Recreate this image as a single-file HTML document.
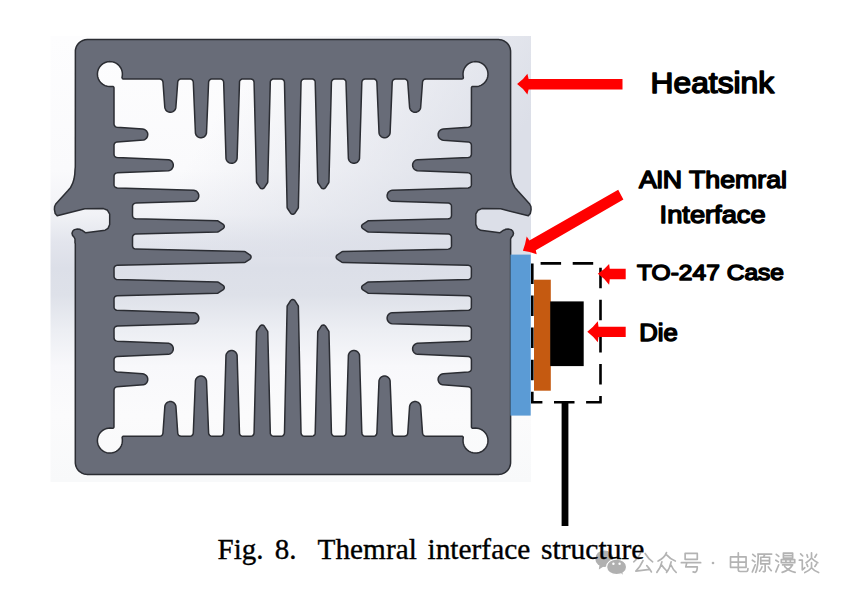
<!DOCTYPE html>
<html><head><meta charset="utf-8"><style>
html,body{margin:0;padding:0;background:#fff;width:848px;height:597px;overflow:hidden}
svg{display:block;position:absolute;left:0;top:0}
</style></head><body>
<svg width="848" height="597" viewBox="0 0 848 597">
<defs>
<linearGradient id="bgV" gradientUnits="userSpaceOnUse" x1="0" y1="36" x2="0" y2="482">
<stop offset="0" stop-color="#fdfdfe"/>
<stop offset="0.30" stop-color="#fafafc"/>
<stop offset="0.40" stop-color="#f1f2f6"/>
<stop offset="0.46" stop-color="#e3e5ed"/>
<stop offset="0.52" stop-color="#dcdfe8"/>
<stop offset="0.58" stop-color="#dee1e9"/>
<stop offset="0.66" stop-color="#eceef3"/>
<stop offset="0.74" stop-color="#f8f8fb"/>
<stop offset="0.85" stop-color="#fbfbfc"/>
<stop offset="1" stop-color="#f8f9fa"/>
</linearGradient>
<linearGradient id="bgH" gradientUnits="userSpaceOnUse" x1="250" y1="60" x2="480" y2="200">
<stop offset="0" stop-color="#dcdfe8" stop-opacity="0"/>
<stop offset="1" stop-color="#dcdfe8" stop-opacity="1"/>
</linearGradient>
</defs>
<rect x="50.5" y="36" width="480.5" height="446" fill="url(#bgV)"/>
<rect x="50.5" y="36" width="480.5" height="221" fill="url(#bgH)"/>
<path d="M55.20 213.50 L57.20 215.80 L84.81 208.82 L103.53 208.60 L107.53 210.29 L109.69 214.08 L109.68 224.50 L108.02 228.41 L105.14 230.21 L85.76 232.77 L85.35 232.62 L81.90 230.20 L80.43 229.83 L80.00 229.30 L77.26 229.11 L74.47 229.62 L72.80 231.00 L72.00 233.20 L72.60 235.50 L74.12 237.21 L74.98 239.00 L75.00 242.96 L75.30 243.62 L75.30 462.41 L75.36 463.60 L75.81 465.86 L76.73 468.07 L78.01 470.00 L78.83 470.90 L79.70 471.69 L81.63 472.97 L83.84 473.89 L86.10 474.34 L87.31 474.40 L498.59 474.40 L499.80 474.34 L502.06 473.89 L504.27 472.97 L505.28 472.37 L507.07 470.90 L507.89 470.00 L509.17 468.07 L510.09 465.86 L510.54 463.60 L510.60 462.39 L510.60 238.97 L511.38 237.21 L512.90 235.50 L513.50 233.20 L512.70 231.00 L511.03 229.62 L508.24 229.11 L505.50 229.30 L505.07 229.83 L503.60 230.20 L500.15 232.62 L499.74 232.77 L480.67 230.32 L477.48 228.41 L475.80 224.34 L475.85 213.94 L477.97 210.29 L481.80 208.62 L500.69 208.82 L528.30 215.80 L530.30 213.50 L531.09 209.55 L530.90 206.50 L529.66 203.96 L517.71 190.81 L514.86 187.41 L512.88 183.44 L511.52 179.05 L510.71 174.04 L510.60 171.98 L510.60 51.59 L510.54 50.40 L510.09 48.14 L509.17 45.93 L507.89 44.00 L507.10 43.13 L506.20 42.31 L504.27 41.03 L502.06 40.11 L499.80 39.66 L498.59 39.60 L87.31 39.60 L84.98 39.83 L82.73 40.51 L80.62 41.63 L78.83 43.10 L78.01 44.00 L76.73 45.93 L76.21 47.03 L75.54 49.24 L75.36 50.44 L75.30 166.96 L75.00 170.01 L74.79 174.04 L73.98 179.05 L72.62 183.44 L70.64 187.41 L67.79 190.81 L55.77 204.05 L54.60 206.50 L54.40 209.45ZM112.85 86.40 L109.80 86.60 L107.36 86.34 L105.02 85.61 L102.87 84.43 L100.99 82.86 L99.45 80.96 L98.32 78.79 L97.62 76.44 L97.40 74.00 L97.66 71.56 L98.39 69.22 L99.57 67.07 L101.14 65.19 L103.04 63.65 L105.21 62.52 L107.56 61.82 L109.17 61.62 L110.81 61.64 L112.43 61.86 L114.00 62.30 L115.51 62.93 L116.77 63.66 L118.07 64.65 L119.23 65.78 L120.78 67.95 L121.48 69.40 L121.94 70.77 L122.28 72.38 L122.40 74.01 L122.30 75.62 L121.99 77.72 L122.38 78.51 L122.93 78.89 L123.50 79.00 L159.62 79.00 L160.91 79.25 L161.84 79.82 L162.35 80.38 L162.83 81.35 L162.97 82.05 L164.77 107.15 L164.98 108.29 L165.77 109.91 L166.42 110.68 L167.21 111.33 L168.84 112.09 L169.84 112.27 L170.86 112.27 L172.53 111.86 L173.99 110.95 L174.65 110.28 L175.23 109.45 L175.81 107.90 L177.73 82.12 L177.87 81.35 L178.31 80.44 L178.80 79.87 L179.36 79.46 L180.30 79.09 L180.97 79.01 L189.98 79.00 L190.73 79.09 L191.69 79.48 L192.30 79.95 L192.75 80.49 L193.17 81.44 L193.29 82.18 L195.44 133.18 L196.07 134.95 L196.66 135.79 L197.49 136.60 L198.35 137.15 L199.29 137.54 L200.35 137.76 L201.39 137.78 L203.20 137.33 L204.09 136.83 L204.87 136.19 L205.94 134.74 L206.32 133.79 L206.51 132.86 L208.61 82.22 L208.86 81.05 L209.28 80.31 L210.03 79.60 L210.71 79.23 L211.39 79.05 L220.36 79.00 L221.11 79.09 L222.14 79.52 L222.74 80.02 L223.34 80.87 L223.67 82.26 L225.99 158.30 L226.21 159.36 L226.60 160.30 L227.19 161.21 L227.91 161.95 L228.87 162.61 L229.81 163.02 L231.67 163.29 L232.69 163.18 L233.73 162.86 L234.63 162.37 L235.43 161.74 L236.54 160.23 L236.92 159.28 L237.12 158.21 L239.52 81.54 L239.96 80.51 L240.46 79.91 L241.39 79.29 L242.13 79.06 L250.75 79.00 L251.91 79.21 L252.60 79.56 L253.14 80.02 L253.74 80.88 L254.07 82.27 L256.54 181.95 L256.79 182.73 L260.19 187.90 L261.11 188.58 L262.30 188.79 L263.31 188.52 L264.17 187.83 L267.51 182.73 L267.76 181.95 L270.31 81.62 L270.56 80.88 L271.21 79.97 L272.19 79.30 L272.93 79.06 L281.19 79.00 L282.31 79.21 L283.01 79.57 L283.55 80.03 L284.14 80.89 L284.47 82.29 L287.14 207.45 L287.39 208.23 L290.79 213.40 L291.71 214.08 L292.91 214.29 L293.91 214.02 L294.77 213.33 L298.11 208.23 L298.36 207.45 L301.03 82.29 L301.36 80.89 L301.95 80.03 L302.43 79.61 L303.19 79.21 L304.31 79.00 L312.57 79.06 L313.31 79.30 L314.29 79.97 L314.94 80.88 L315.19 81.62 L317.74 181.95 L317.99 182.73 L321.39 187.90 L322.31 188.58 L323.53 188.79 L324.51 188.52 L325.37 187.83 L328.71 182.73 L328.96 181.95 L331.43 82.27 L331.76 80.88 L332.09 80.34 L332.84 79.61 L333.59 79.21 L334.71 79.00 L343.37 79.06 L344.11 79.29 L345.04 79.91 L345.54 80.51 L345.98 81.54 L348.38 158.29 L348.61 159.36 L349.03 160.37 L349.65 161.28 L350.43 162.05 L351.35 162.65 L352.36 163.07 L353.44 163.27 L354.46 163.27 L356.20 162.82 L357.09 162.33 L357.88 161.68 L358.94 160.23 L359.32 159.29 L359.52 158.29 L361.83 82.26 L362.16 80.87 L362.76 80.02 L363.24 79.60 L363.99 79.21 L365.11 79.00 L374.11 79.05 L374.86 79.26 L375.47 79.60 L376.22 80.31 L376.64 81.05 L376.89 82.22 L379.04 133.17 L379.36 134.30 L379.83 135.21 L381.10 136.60 L381.96 137.16 L382.97 137.57 L384.04 137.77 L385.15 137.76 L386.14 137.57 L387.08 137.19 L388.48 136.18 L389.54 134.74 L389.89 133.86 L390.11 132.87 L392.21 82.18 L392.55 80.85 L392.88 80.31 L393.63 79.60 L394.38 79.21 L395.49 79.00 L404.49 79.00 L405.20 79.09 L406.14 79.46 L407.15 80.38 L407.63 81.35 L407.77 82.12 L409.57 107.15 L409.78 108.28 L410.19 109.29 L410.75 110.15 L412.14 111.41 L413.04 111.89 L414.02 112.18 L415.10 112.30 L416.12 112.21 L417.74 111.66 L419.07 110.69 L420.06 109.38 L420.61 107.91 L422.53 82.05 L422.90 80.78 L423.50 79.97 L424.04 79.53 L424.72 79.20 L425.88 79.00 L462.26 78.96 L462.97 78.57 L463.39 77.79 L463.04 75.02 L463.04 73.19 L463.40 70.99 L463.99 69.24 L464.74 67.74 L466.03 65.95 L467.33 64.65 L468.66 63.64 L470.64 62.59 L472.94 61.87 L474.80 61.62 L477.01 61.69 L478.84 62.06 L480.94 62.85 L482.54 63.77 L484.26 65.19 L485.49 66.59 L486.67 68.49 L487.37 70.20 L487.88 72.38 L488.00 74.23 L487.77 76.45 L487.29 78.24 L486.37 80.27 L485.34 81.80 L483.83 83.41 L482.52 84.44 L480.95 85.35 L478.86 86.14 L477.04 86.50 L475.39 86.60 L472.55 86.40 L471.86 86.78 L471.44 87.53 L471.40 123.87 L471.20 125.03 L470.87 125.71 L470.43 126.25 L469.62 126.85 L468.35 127.22 L443.25 129.02 L442.19 129.21 L440.63 129.92 L439.41 131.01 L438.55 132.41 L438.14 133.93 L438.24 135.80 L438.54 136.78 L439.03 137.68 L439.71 138.52 L440.49 139.18 L442.18 139.99 L443.25 140.18 L468.28 141.98 L469.05 142.12 L470.02 142.60 L470.94 143.61 L471.31 144.55 L471.40 145.26 L471.40 154.26 L471.19 155.37 L470.80 156.12 L470.09 156.87 L469.55 157.20 L468.22 157.54 L417.53 159.64 L416.54 159.86 L415.66 160.21 L414.22 161.27 L413.21 162.67 L412.83 163.61 L412.64 164.60 L412.63 165.71 L412.83 166.78 L413.24 167.79 L413.80 168.65 L414.61 169.49 L415.45 170.08 L417.23 170.71 L468.18 172.86 L469.35 173.11 L470.03 173.48 L470.55 173.96 L471.11 174.83 L471.35 175.64 L471.40 184.64 L471.19 185.76 L470.80 186.51 L470.07 187.26 L469.53 187.59 L468.14 187.92 L392.19 190.23 L390.52 190.64 L389.06 191.55 L388.35 192.28 L387.82 193.05 L387.22 194.66 L387.10 195.76 L387.22 196.93 L387.55 197.99 L388.11 199.00 L388.78 199.79 L389.69 200.52 L390.96 201.12 L392.03 201.36 L448.24 203.08 L449.43 203.32 L450.17 203.74 L450.90 204.49 L451.26 205.17 L451.45 205.86 L451.50 215.49 L451.29 216.65 L450.89 217.41 L450.16 218.16 L449.62 218.48 L448.23 218.81 L368.45 220.79 L367.67 221.04 L362.66 224.31 L362.03 224.97 L361.65 225.90 L361.61 226.58 L361.75 227.24 L362.05 227.85 L362.48 228.35 L367.67 231.76 L368.45 232.01 L448.95 234.08 L449.98 234.52 L450.58 235.01 L451.20 235.95 L451.45 236.77 L451.50 245.86 L451.29 246.98 L450.89 247.74 L450.16 248.49 L449.61 248.82 L448.21 249.14 L342.95 251.39 L342.17 251.64 L337.00 255.04 L336.33 255.95 L336.11 257.05 L336.37 258.14 L337.07 259.02 L342.17 262.36 L342.95 262.61 L468.11 265.28 L469.51 265.61 L470.37 266.20 L470.79 266.68 L471.19 267.44 L471.40 268.56 L471.34 276.82 L471.10 277.56 L470.43 278.54 L469.52 279.19 L468.78 279.44 L368.45 281.99 L367.67 282.24 L362.50 285.64 L361.82 286.56 L361.61 287.78 L361.88 288.76 L362.57 289.62 L367.67 292.96 L368.45 293.21 L468.13 295.68 L469.52 296.01 L470.38 296.61 L470.79 297.09 L471.19 297.84 L471.40 298.96 L471.34 307.62 L471.11 308.36 L470.49 309.29 L469.89 309.79 L468.86 310.23 L392.11 312.63 L391.04 312.86 L390.03 313.28 L389.12 313.90 L388.35 314.68 L387.78 315.53 L387.36 316.54 L387.13 317.61 L387.13 318.71 L387.58 320.45 L388.07 321.34 L388.72 322.13 L390.17 323.19 L391.11 323.57 L392.11 323.77 L468.14 326.08 L469.53 326.41 L470.07 326.74 L470.80 327.49 L471.19 328.24 L471.40 329.36 L471.35 338.36 L471.17 339.04 L470.80 339.72 L470.09 340.47 L469.35 340.89 L468.18 341.14 L417.23 343.29 L416.10 343.61 L415.19 344.08 L413.80 345.35 L413.24 346.21 L412.83 347.22 L412.63 348.29 L412.64 349.40 L412.83 350.39 L413.21 351.33 L414.22 352.73 L415.66 353.79 L416.54 354.14 L417.53 354.36 L468.22 356.46 L469.55 356.80 L470.40 357.40 L470.80 357.88 L471.19 358.63 L471.40 359.74 L471.40 368.74 L471.31 369.45 L470.94 370.39 L470.02 371.40 L469.05 371.88 L468.28 372.02 L443.25 373.82 L442.12 374.03 L441.11 374.44 L440.25 375.00 L438.99 376.39 L438.51 377.29 L438.22 378.27 L438.10 379.35 L438.19 380.37 L438.74 381.99 L439.71 383.32 L441.02 384.31 L442.49 384.86 L468.35 386.78 L469.62 387.15 L470.43 387.75 L470.87 388.29 L471.20 388.97 L471.40 390.13 L471.44 427.17 L471.86 427.92 L472.55 428.30 L475.39 428.10 L477.04 428.20 L478.86 428.56 L480.94 429.35 L482.52 430.26 L483.83 431.29 L485.34 432.89 L486.28 434.27 L487.09 435.94 L487.74 438.07 L487.98 439.91 L487.90 442.14 L487.54 443.96 L486.75 446.05 L485.82 447.65 L484.41 449.36 L483.01 450.59 L481.11 451.77 L479.40 452.47 L477.04 453.00 L474.81 453.08 L472.97 452.84 L470.84 452.19 L469.16 451.37 L467.79 450.44 L466.18 448.92 L465.06 447.47 L464.24 446.02 L463.46 443.94 L463.10 442.12 L463.02 439.91 L463.27 437.41 L462.91 436.69 L462.14 436.24 L425.89 436.20 L424.73 436.00 L423.98 435.62 L423.24 434.93 L422.91 434.41 L422.54 433.11 L420.61 405.90 L420.06 404.42 L419.07 403.11 L417.74 402.14 L416.12 401.59 L415.10 401.50 L414.02 401.62 L413.04 401.91 L412.14 402.39 L411.23 403.11 L410.57 403.89 L409.76 405.58 L409.57 406.65 L407.76 433.07 L407.62 433.84 L407.19 434.76 L406.69 435.33 L406.13 435.74 L405.19 436.11 L404.48 436.20 L395.49 436.20 L394.38 435.99 L393.63 435.60 L392.88 434.88 L392.55 434.35 L392.21 433.02 L390.11 380.93 L389.89 379.94 L389.54 379.06 L388.48 377.62 L387.08 376.61 L386.14 376.23 L385.15 376.04 L384.04 376.03 L382.96 376.23 L381.95 376.65 L381.04 377.24 L380.25 378.02 L379.64 378.92 L379.21 379.93 L378.99 380.93 L376.89 432.98 L376.64 434.15 L376.22 434.88 L375.47 435.60 L374.79 435.97 L374.11 436.15 L365.11 436.20 L363.99 435.99 L363.24 435.59 L362.76 435.18 L362.16 434.33 L361.83 432.94 L359.52 355.51 L359.32 354.51 L358.94 353.57 L357.88 352.12 L357.09 351.47 L356.20 350.98 L354.46 350.53 L353.36 350.53 L352.29 350.76 L351.28 351.18 L350.37 351.80 L349.60 352.58 L349.00 353.50 L348.58 354.51 L348.38 355.51 L345.98 433.66 L345.54 434.69 L345.04 435.29 L344.11 435.91 L343.37 436.14 L334.72 436.20 L333.60 435.99 L332.84 435.59 L332.36 435.18 L331.76 434.32 L331.43 432.93 L328.96 331.85 L328.71 331.07 L325.37 325.97 L324.51 325.28 L323.53 325.01 L322.31 325.22 L321.39 325.90 L317.99 331.07 L317.74 331.85 L315.19 433.58 L314.94 434.32 L314.29 435.23 L313.31 435.90 L312.57 436.14 L304.31 436.20 L303.19 435.99 L302.43 435.59 L301.95 435.17 L301.36 434.31 L301.03 432.91 L298.36 306.35 L298.11 305.57 L294.71 300.40 L293.80 299.73 L292.70 299.51 L291.61 299.77 L290.73 300.47 L287.39 305.57 L287.14 306.35 L284.47 432.91 L284.14 434.31 L283.55 435.17 L283.07 435.59 L282.31 435.99 L281.19 436.20 L272.93 436.14 L272.19 435.90 L271.21 435.23 L270.56 434.32 L270.31 433.58 L267.76 331.85 L267.51 331.07 L264.11 325.90 L263.19 325.22 L261.97 325.01 L260.99 325.28 L260.13 325.97 L256.79 331.07 L256.54 331.85 L254.07 432.93 L253.74 434.32 L253.41 434.86 L252.66 435.59 L251.90 435.99 L250.78 436.20 L242.13 436.14 L241.39 435.91 L240.46 435.29 L239.96 434.69 L239.52 433.66 L237.12 355.51 L236.89 354.44 L236.50 353.50 L235.90 352.58 L235.13 351.80 L234.22 351.18 L233.21 350.76 L232.14 350.53 L231.04 350.53 L229.30 350.98 L228.41 351.47 L227.62 352.12 L226.56 353.57 L226.18 354.51 L225.98 355.51 L223.67 432.94 L223.34 434.33 L223.01 434.87 L222.26 435.59 L221.51 435.99 L220.39 436.20 L211.39 436.15 L210.58 435.91 L209.71 435.35 L209.20 434.77 L208.86 434.15 L208.61 432.98 L206.51 380.93 L206.29 379.93 L205.86 378.92 L205.25 378.02 L204.46 377.24 L203.55 376.65 L202.54 376.23 L201.46 376.03 L200.35 376.04 L199.36 376.23 L198.42 376.61 L197.02 377.62 L195.96 379.06 L195.61 379.94 L195.39 380.93 L193.29 433.02 L192.95 434.35 L192.35 435.20 L191.87 435.60 L191.12 435.99 L190.01 436.20 L181.02 436.20 L180.31 436.11 L179.37 435.74 L178.76 435.28 L178.31 434.76 L177.88 433.84 L177.74 433.07 L175.93 406.65 L175.74 405.58 L174.93 403.89 L174.27 403.11 L173.36 402.39 L172.46 401.91 L171.48 401.62 L170.40 401.50 L169.38 401.59 L167.76 402.14 L166.43 403.11 L165.44 404.42 L164.89 405.90 L162.96 433.11 L162.59 434.41 L161.99 435.23 L161.52 435.62 L160.77 436.00 L159.61 436.20 L123.26 436.24 L122.55 436.63 L122.13 437.41 L122.38 439.91 L122.30 442.12 L121.94 443.94 L121.16 446.02 L120.34 447.47 L119.22 448.92 L117.61 450.44 L116.25 451.37 L114.58 452.19 L112.44 452.84 L110.60 453.08 L108.37 453.00 L106.56 452.64 L104.46 451.85 L102.86 450.93 L101.14 449.51 L99.91 448.11 L98.73 446.21 L98.03 444.50 L97.52 442.32 L97.40 440.47 L97.63 438.25 L98.11 436.46 L99.03 434.43 L100.06 432.90 L101.57 431.29 L102.88 430.26 L104.45 429.35 L106.54 428.56 L108.36 428.20 L110.01 428.10 L112.85 428.30 L113.54 427.92 L113.96 427.17 L114.00 390.13 L114.20 388.97 L114.53 388.29 L114.97 387.75 L115.79 387.15 L117.05 386.79 L143.41 384.86 L144.95 384.28 L145.78 383.70 L146.45 383.04 L147.35 381.59 L147.76 380.07 L147.66 378.20 L147.36 377.22 L146.87 376.32 L146.19 375.48 L145.41 374.82 L143.72 374.01 L142.65 373.82 L117.12 372.02 L116.36 371.88 L115.38 371.40 L114.46 370.39 L114.09 369.44 L114.00 368.74 L114.00 359.74 L114.21 358.63 L114.60 357.88 L115.00 357.40 L115.85 356.80 L117.18 356.46 L168.37 354.36 L169.36 354.14 L170.24 353.79 L171.68 352.73 L172.69 351.33 L173.07 350.39 L173.27 349.39 L173.27 348.29 L173.07 347.22 L172.66 346.21 L172.10 345.35 L170.71 344.08 L169.80 343.61 L168.67 343.29 L117.22 341.14 L116.05 340.89 L115.31 340.47 L114.60 339.72 L114.26 339.10 L114.05 338.36 L114.00 329.36 L114.21 328.24 L114.60 327.49 L115.02 327.01 L115.87 326.41 L117.26 326.08 L193.79 323.77 L194.79 323.57 L195.73 323.19 L197.18 322.13 L197.83 321.34 L198.32 320.45 L198.77 318.71 L198.77 317.69 L198.57 316.61 L198.15 315.60 L197.55 314.68 L196.78 313.90 L195.87 313.28 L194.86 312.86 L193.79 312.63 L116.54 310.23 L115.51 309.79 L114.91 309.29 L114.29 308.36 L114.06 307.62 L114.00 298.97 L114.21 297.84 L114.61 297.09 L115.02 296.61 L115.88 296.01 L117.27 295.68 L217.45 293.21 L218.23 292.96 L223.33 289.62 L224.02 288.76 L224.29 287.78 L224.08 286.56 L223.40 285.64 L218.23 282.24 L217.45 281.99 L116.62 279.44 L115.88 279.19 L114.97 278.54 L114.49 277.93 L114.06 276.82 L114.00 268.56 L114.21 267.44 L114.61 266.68 L115.03 266.20 L115.89 265.61 L117.29 265.28 L244.25 262.61 L245.03 262.36 L250.13 259.02 L250.82 258.15 L251.09 257.07 L250.87 255.95 L250.20 255.04 L245.03 251.64 L244.25 251.39 L135.79 249.11 L134.46 248.82 L133.37 248.03 L132.74 247.02 L132.51 245.86 L132.55 236.80 L132.80 235.98 L133.42 235.05 L134.02 234.56 L135.06 234.12 L217.45 232.01 L218.23 231.76 L223.41 228.35 L224.12 227.33 L224.28 226.11 L223.98 225.16 L223.32 224.37 L218.23 221.04 L217.45 220.79 L135.77 218.77 L134.38 218.45 L133.52 217.85 L133.11 217.37 L132.71 216.61 L132.50 215.49 L132.55 205.90 L132.74 205.22 L133.10 204.53 L133.83 203.79 L134.57 203.37 L135.76 203.12 L193.86 201.36 L194.87 201.14 L195.88 200.71 L196.79 200.09 L197.60 199.25 L198.16 198.39 L198.59 197.31 L198.78 196.23 L198.71 194.83 L198.15 193.20 L197.08 191.76 L196.34 191.17 L195.45 190.68 L193.79 190.23 L117.26 187.92 L115.87 187.59 L115.02 186.99 L114.60 186.51 L114.21 185.76 L114.00 184.64 L114.05 175.64 L114.29 174.83 L114.85 173.96 L115.43 173.45 L116.05 173.11 L117.22 172.86 L168.37 170.76 L169.37 170.54 L170.37 170.12 L171.22 169.55 L171.95 168.84 L172.92 167.23 L173.20 166.24 L173.30 165.15 L173.20 164.15 L172.92 163.17 L171.99 161.61 L171.28 160.90 L170.44 160.32 L168.67 159.69 L117.18 157.54 L115.85 157.20 L115.00 156.60 L114.60 156.12 L114.21 155.37 L114.00 154.26 L114.00 145.26 L114.09 144.56 L114.46 143.61 L114.91 143.01 L115.44 142.56 L116.36 142.12 L117.12 141.98 L143.41 140.06 L144.38 139.76 L145.21 139.31 L146.56 138.11 L147.12 137.27 L147.52 136.33 L147.79 134.49 L147.70 133.55 L147.42 132.57 L146.60 131.14 L145.28 129.93 L143.71 129.21 L142.65 129.02 L117.05 127.21 L115.79 126.85 L115.27 126.51 L114.57 125.77 L114.20 125.03 L114.00 123.87 L114.00 87.83 L113.87 87.25 L113.37 86.64Z" fill="#686c78" fill-rule="evenodd" stroke="#2b2d33" stroke-width="1.5" stroke-linejoin="round"/>
<!-- blue AlN -->
<rect x="510.5" y="254.6" width="20.2" height="161" fill="#5b9bd5"/>
<!-- orange -->
<rect x="534" y="279.7" width="16.8" height="111" fill="#c55a11"/>
<!-- die -->
<rect x="550.2" y="301.4" width="33.5" height="64.7" fill="#000"/>
<!-- dashed case -->
<path d="M532.3 263.4 V402.2 H600.5 V263.4 Z" fill="none" stroke="#000" stroke-width="2.6" stroke-dasharray="20.5 11.6"/>
<!-- lead -->
<rect x="561.6" y="402" width="6.8" height="124" fill="#000"/>
<!-- arrows -->
<g fill="#ff0000">
<path d="M517.1 84.1 Q523.5 79.5 527.4 73.8 L528.6 79 H622.5 V89.4 H528.6 L527.4 94.4 Q523.5 88.7 517.1 84.1 Z"/>
<path d="M597.8 273.8 Q604.5 269.5 609.1 264 L609.8 268.8 H625.7 V279.2 H609.8 L609.1 284.8 Q604.5 278.3 597.8 273.8 Z"/>
<path d="M587.3 331.8 Q593.5 327 597.8 321.3 L598.5 326.7 H625.7 V337.1 H598.5 L597.8 342.3 Q593.5 336.5 587.3 331.8 Z"/>
<path d="M522.9 250.8 Q525.5 243.5 526.7 236.4 L529.4 240.5 L618.2 189.7 L623.4 199.4 L535.8 250.2 L536.7 254.3 Q529.5 251.5 522.9 250.8 Z"/>
</g>
<g font-family="Liberation Sans" font-weight="400" fill="#000" stroke="#000" stroke-width="1.6" stroke-linejoin="round">
<text x="0" y="0" transform="translate(650.6 93.4) scale(1 0.93)" font-size="31.2" textLength="123.5" lengthAdjust="spacingAndGlyphs">Heatsink</text>
<text x="0" y="0" transform="translate(639 188.2) scale(1 0.895)" font-size="26.4" textLength="148" lengthAdjust="spacingAndGlyphs">AlN Themral</text>
<text x="0" y="0" transform="translate(659.6 223.2) scale(1 0.9)" font-size="26.8" textLength="106" lengthAdjust="spacingAndGlyphs">Interface</text>
<text x="0" y="0" transform="translate(637 279.8) scale(1 0.925)" font-size="24.4" textLength="147" lengthAdjust="spacingAndGlyphs">TO-247 Case</text>
<text x="0" y="0" transform="translate(639.2 341.0) scale(1 0.94)" font-size="25.2" textLength="38.5" lengthAdjust="spacingAndGlyphs">Die</text>
</g>
<g fill="none" stroke="#b3b3b3" stroke-width="8" stroke-linecap="round" stroke-linejoin="round">
<path transform="translate(632.5 552.2) scale(0.21)" d="M38 6 C30 22 20 36 6 46 M60 6 C70 22 82 36 96 46 M50 40 C42 58 30 76 16 90 L82 82 M68 64 C76 72 84 82 90 94"/>
<path transform="translate(656 552.2) scale(0.21)" d="M50 2 C44 18 30 32 10 42 M52 14 C62 26 76 36 92 42 M28 46 C24 66 16 82 4 96 M28 62 C34 72 42 80 48 86 M72 46 C68 66 62 82 50 96 M72 62 C78 76 86 88 96 96"/>
<path transform="translate(680.5 552.2) scale(0.21)" d="M22 6 H80 V34 H22 Z M4 50 H96 M30 50 L25 70 H80 C80 82 78 92 70 96 L60 94"/>
<path transform="translate(728 552.2) scale(0.21)" d="M12 22 H86 V72 H12 Z M12 47 H86 M49 3 V84 C49 90 52 92 58 92 H88 C93 92 95 88 95 78"/>
<path transform="translate(751.5 552.2) scale(0.21)" d="M6 10 L18 20 M4 38 L16 46 M4 94 C10 80 14 70 18 60 M30 9 H96 M32 9 C32 50 30 76 20 96 M62 14 L56 24 M44 24 H86 V56 H44 Z M44 40 H86 M65 56 V88 C65 92 62 94 56 92 M50 70 C48 78 44 84 38 90 M80 70 C84 76 88 82 94 88"/>
<path transform="translate(775 552.2) scale(0.21)" d="M6 10 L18 20 M4 38 L16 46 M4 94 C10 80 14 70 18 60 M40 4 H84 V28 H40 Z M40 16 H84 M30 35 H94 V50 H30 Z M52 35 V50 M73 35 V50 M36 60 H84 C72 80 56 90 34 96 M46 68 C60 84 76 92 96 96"/>
<path transform="translate(798.5 552.2) scale(0.21)" d="M10 8 L20 18 M4 38 H18 V84 L30 74 M40 12 L44 24 M86 10 L78 24 M62 3 V28 C54 38 46 44 36 50 M62 28 C70 38 80 44 92 50 M40 58 L44 68 M86 56 L78 68 M62 50 V74 C52 86 42 92 30 97 M62 74 C72 86 82 92 96 97"/>
</g>
<circle cx="713" cy="563" r="1.3" fill="#b3b3b3"/>
<g fill="#b0b0b0">
<ellipse cx="604.3" cy="558.7" rx="9" ry="8.3"/>
<path d="M599.5 565 L598.8 569.6 L604 566.3 Z"/>
<ellipse cx="616.6" cy="566.9" rx="10" ry="7.8" stroke="#fff" stroke-width="1.2"/>
<path d="M620.5 572.5 L622.8 574.8 L622.2 571 Z"/>
</g>
<circle cx="613.4" cy="563.8" r="1.2" fill="#fff"/>
<circle cx="619.6" cy="563.8" r="1.2" fill="#fff"/>
<g font-family="Liberation Serif" font-size="29" fill="#000" stroke="#000" stroke-width="0.35">
<text x="217.5" y="559">Fig.</text>
<text x="274.8" y="559">8.</text>
<text x="317.6" y="559" textLength="99.2" lengthAdjust="spacingAndGlyphs">Themral</text>
<text x="427.5" y="559" textLength="102.8" lengthAdjust="spacingAndGlyphs">interface</text>
<text x="541" y="559" textLength="103.5" lengthAdjust="spacingAndGlyphs">structure</text>
</g>
</svg>
</body></html>
